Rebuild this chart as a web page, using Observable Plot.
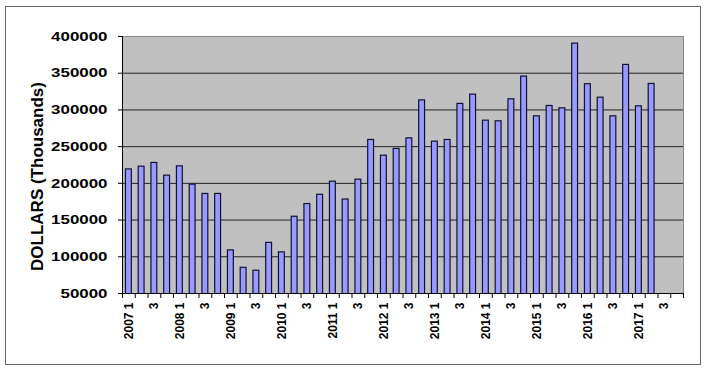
<!DOCTYPE html>
<html><head><meta charset="utf-8">
<script src="https://cdn.jsdelivr.net/npm/d3@7"></script>
<script src="https://cdn.jsdelivr.net/npm/@observablehq/plot@0.6"></script>
<style>
body{margin:0;background:#fff;}
#wrap{position:relative;width:705px;height:370px;}
#border{position:absolute;left:5px;top:6px;width:694px;height:357px;border:1px solid #666;pointer-events:none;}
#chart svg{display:block;}
</style></head><body>
<div id="wrap"><div id="border"></div><div id="chart"></div></div>
<script>
const years = [2007,2008,2009,2010,2011,2012,2013,2014,2015,2016,2017];
const quarters = [1,2,3,4];
const values = [
  219000,222700,227800,210500,
  223200,198200,185600,185600,
  108700,85000,81000,119000,
  106000,154500,171800,184500,
  202300,178000,205000,259100,
  237700,246900,261300,313000,
  256800,259100,308200,320800,
  285400,284500,314500,345400,
  291300,305400,302200,390300,
  335000,316700,291300,361300,
  304900,335400
];
const yTicks = [50000,100000,150000,200000,250000,300000,350000,400000];
const yLabel = "DOLLARS (Thousands)";

const categories = years.flatMap(y => quarters.map(q => ({year: y, q})));
const data = values.map((v, i) => ({i, v}));
const tickLabels = categories
  .map((c, i) => ({i, text: c.q === 1 ? `${c.year} 1` : c.q === 3 ? "3" : null}))
  .filter(d => d.text);
const labelMap = new Map(tickLabels.map(d => [d.i + 0.5, d.text]));

const chart = Plot.plot({
  width: 705, height: 370,
  marginLeft: 122, marginRight: 22, marginTop: 36, marginBottom: 77,
  style: {fontFamily: "'Liberation Sans', Arial, sans-serif", background: "transparent", color: "#000"},
  x: {type: "linear", domain: [0, categories.length]},
  y: {domain: [yTicks[0], yTicks[yTicks.length - 1]]},
  marks: [
    Plot.frame({fill: "#c0c0c0", stroke: "#888"}),
    Plot.ruleY(yTicks.slice(1, -1), {stroke: "#222", strokeWidth: 1}),
    Plot.rectY(data, {x1: d => d.i + 0.27, x2: d => d.i + 0.73, y1: () => 0, y2: "v",
      fill: "#9999ff", stroke: "#111133", strokeWidth: 1.2, clip: true}),
    Plot.ruleY([yTicks[0]], {stroke: "#000"}),
    Plot.ruleX([0], {stroke: "#000"}),
    Plot.axisY({ticks: yTicks, tickSize: 4, tickPadding: 11, fontSize: 13, fontWeight: "bold",
      tickFormat: d => String(d), label: null}),
    Plot.axisX({ticks: d3.range(categories.length + 1), tickSize: 5, tickFormat: () => "", label: null}),
    Plot.axisX({ticks: tickLabels.map(d => d.i + 0.5), tickSize: 0, tickPadding: 9, tickRotate: -90,
      tickFormat: t => labelMap.get(t), fontSize: 12, fontWeight: "bold", label: null}),
    Plot.text([yLabel], {frameAnchor: "left", text: d => d, rotate: -90, dx: -84.5, dy: 11.5,
      fontSize: 17, fontWeight: "bold", textAnchor: "middle", lineAnchor: "middle"})
  ]
});
document.getElementById("chart").appendChild(chart);

// widen the y tick labels as in the reference (text stays real text)
d3.select(chart).selectAll('g[aria-label="y-axis tick label"] text').each(function() {
  const w = this.getComputedTextLength();
  if (w > 0) {
    this.setAttribute("textLength", (w * 1.3).toFixed(1));
    this.setAttribute("lengthAdjust", "spacingAndGlyphs");
  }
});
</script>
</body></html>
